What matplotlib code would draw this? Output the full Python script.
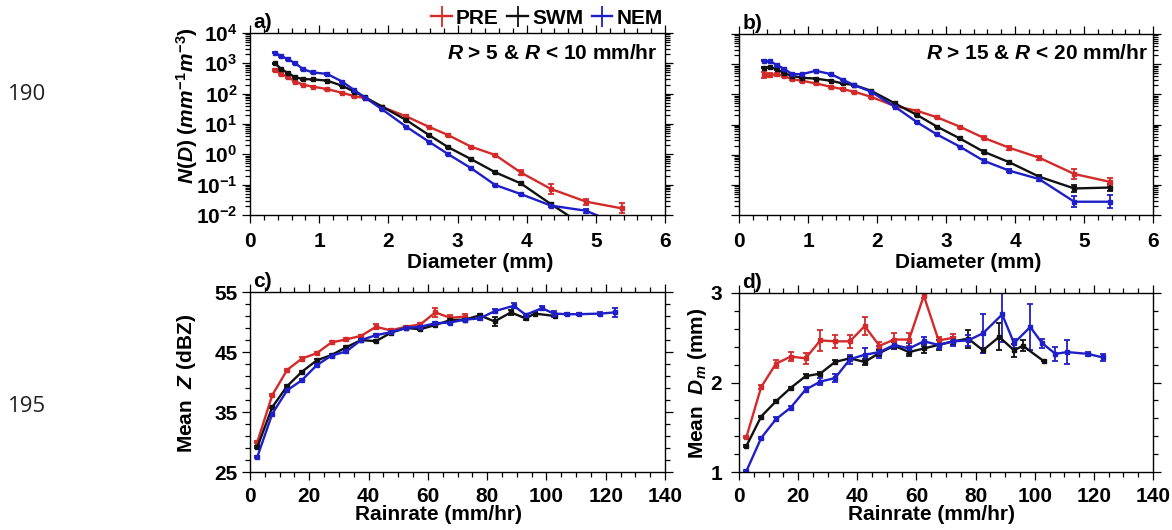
import numpy as np
import matplotlib
matplotlib.use('Agg')
import matplotlib.pyplot as plt
from matplotlib.lines import Line2D
from matplotlib.ticker import MultipleLocator, LogLocator, NullFormatter, FixedLocator

plt.rcParams['font.family'] = 'Liberation Sans'
plt.rcParams['font.weight'] = 'bold'
plt.rcParams['mathtext.fontset'] = 'custom'
plt.rcParams['mathtext.rm'] = 'Liberation Sans:bold'
plt.rcParams['mathtext.it'] = 'Liberation Sans:italic:bold'
plt.rcParams['mathtext.bf'] = 'Liberation Sans:bold'

RED = '#d42a2a'
BLACK = '#111111'
BLUE = '#1f1fc8'

# drop diameter bins (mm)
D = [0.359, 0.455, 0.551, 0.656, 0.771, 0.913, 1.116, 1.331, 1.506, 1.665,
     1.912, 2.259, 2.584, 2.869, 3.198, 3.544, 3.916, 4.350, 4.859, 5.373]

# panel a: log10 N(D), R 5-10 mm/hr
a_pre = [2.78, 2.65, 2.54, 2.40, 2.29, 2.23, 2.15, 2.03, 1.92, 1.85,
         1.56, 1.25, 0.91, 0.63, 0.25, -0.02, -0.60, -1.14, -1.56, -1.78]
a_swm = [3.00, 2.81, 2.67, 2.54, 2.48, 2.47, 2.43, 2.26, 2.07, 1.88,
         1.57, 1.13, 0.64, 0.23, -0.16, -0.59, -0.96, -1.64, -2.40, np.nan]
a_nem = [3.35, 3.24, 3.13, 3.00, 2.80, 2.70, 2.65, 2.40, 2.12, 1.87,
         1.48, 0.91, 0.42, 0.00, -0.46, -1.01, -1.31, -1.69, -1.86, -2.35]
a_pre_err = [0.02] * 14 + [0.03, 0.04, 0.07, 0.17, 0.10, 0.17]
a_swm_err = [0.02] * 14 + [0.03, 0.03, 0.04, 0.05, 0.05, 0.0]
a_nem_err = [0.02] * 14 + [0.03, 0.04, 0.04, 0.06, 0.06, 0.0]

# panel b: log10 N(D), R 15-20 mm/hr
b_pre = [2.64, 2.64, 2.67, 2.61, 2.50, 2.45, 2.36, 2.25, 2.17, 2.09,
         1.92, 1.61, 1.45, 1.24, 0.93, 0.56, 0.23, -0.10, -0.64, -0.90]
b_swm = [2.88, 2.90, 2.83, 2.70, 2.61, 2.55, 2.52, 2.45, 2.36, 2.31,
         2.12, 1.70, 1.31, 0.93, 0.54, 0.10, -0.25, -0.73, -1.12, -1.09]
b_nem = [3.12, 3.09, 2.97, 2.84, 2.67, 2.67, 2.78, 2.67, 2.48, 2.31,
         2.09, 1.59, 1.07, 0.67, 0.27, -0.20, -0.53, -0.81, -1.56, -1.56]
b_pre_err = [0.10, 0.07, 0.05, 0.05, 0.04] + [0.03] * 10 + [0.05, 0.06, 0.07, 0.17, 0.13]
b_swm_err = [0.02] * 15 + [0.04, 0.05, 0.06, 0.13, 0.13]
b_nem_err = [0.02] * 15 + [0.06, 0.06, 0.06, 0.19, 0.21]

# rain rate bins (mm/hr)
R_pre = [2.5, 7.5, 12.5, 17.5, 22.5, 27.5, 32.5, 37.5, 42.5, 47.5, 52.5, 57.5, 62.5, 67.5, 72.5]
R_swm = R_pre + [77.5, 82.5, 88, 93, 96, 103]
R_nem = R_pre + [77.5, 82.5, 89, 93, 98.5, 102.5, 107, 111, 118, 123]

# panel c: mean Z (dBZ)
c_pre = [30.05, 37.8, 42.0, 43.9, 44.8, 46.6, 47.1, 47.7, 49.2, 48.6, 49.2, 49.6, 51.6, 50.7, 50.9]
c_swm = [29.2, 35.8, 39.3, 41.7, 43.6, 44.5, 45.8, 47.0, 46.8, 48.2, 49.0, 48.8, 49.5, 50.3, 50.4,
         51.1, 50.1, 51.6, 50.6, 51.4, 51.0]
c_nem = [27.55, 34.7, 38.6, 40.3, 42.8, 44.4, 45.1, 47.0, 47.8, 48.3, 49.0, 49.2, 49.8, 49.9, 50.4,
         50.6, 51.8, 52.7, 51.2, 52.3, 51.4, 51.3, 51.3, 51.4, 51.6]
c_pre_err = [0.2] * 8 + [0.4, 0.2, 0.2, 0.3, 0.7, 0.4, 0.5]
c_swm_err = [0.2] * 16 + [0.7, 0.4, 0.3, 0.2, 0.2]
c_nem_err = [0.2] * 16 + [0.3, 0.4, 0.2, 0.3, 0.5, 0.2, 0.2, 0.3, 0.7]

# panel d: mean Dm (mm)
d_pre = [1.39, 1.95, 2.21, 2.29, 2.27, 2.47, 2.46, 2.46, 2.63, 2.41, 2.48, 2.48, 2.97, 2.47, 2.50]
d_swm = [1.29, 1.62, 1.79, 1.94, 2.07, 2.10, 2.23, 2.27, 2.23, 2.33, 2.41, 2.34, 2.38, 2.42, 2.46,
         2.49, 2.36, 2.51, 2.36, 2.41, 2.24]
d_nem = [1.01, 1.38, 1.59, 1.72, 1.92, 2.01, 2.05, 2.26, 2.31, 2.34, 2.42, 2.38, 2.46, 2.42, 2.46,
         2.47, 2.55, 2.76, 2.44, 2.62, 2.44, 2.32, 2.34, 2.32, 2.28]
d_pre_err = [0.01, 0.02, 0.045, 0.05, 0.06, 0.115, 0.075, 0.07, 0.1, 0.04, 0.07, 0.075, 0.03, 0.04, 0.04]
d_swm_err = [0.01, 0.01, 0.01, 0.01, 0.02, 0.02, 0.02, 0.02, 0.03, 0.03, 0.04, 0.04, 0.05, 0.06, 0.04,
             0.10, 0.03, 0.15, 0.07, 0.06, 0.0]
d_nem_err = [0.01, 0.01, 0.02, 0.02, 0.03, 0.04, 0.04, 0.05, 0.07, 0.07, 0.05, 0.06, 0.05, 0.05, 0.05,
             0.06, 0.22, 0.31, 0.05, 0.26, 0.05, 0.08, 0.13, 0.02, 0.04]

W, H = 1172, 530
fig = plt.figure(figsize=(W / 100, H / 100), dpi=100)
ax_a = fig.add_axes([250 / W, 1 - 215 / H, 415 / W, 182 / H])
ax_b = fig.add_axes([739 / W, 1 - 215 / H, 414 / W, 181 / H])
ax_c = fig.add_axes([250 / W, 1 - 472 / H, 415 / W, 180 / H])
ax_d = fig.add_axes([739 / W, 1 - 472 / H, 414 / W, 179 / H])


def draw(ax, x, y, e, color, label=None, log=False):
    y = np.array(y, dtype=float)
    e = np.array(e, dtype=float)
    if log:
        val = 10 ** y
        err = [val - 10 ** (y - e), 10 ** (y + e) - val]
    else:
        val, err = y, e
    return ax.errorbar(x, val, yerr=err, color=color, lw=1.7, marker='s', ms=2.6,
                       capsize=2.5, elinewidth=1.3, capthick=1.3, label=label)


def style(ax, labelleft=True, xpad=8, ypad=3):
    ax.tick_params(which='both', direction='out', top=True, right=True, width=0.9,
                   labelsize=15, labelleft=labelleft)
    ax.tick_params(which='major', length=6)
    ax.tick_params(which='minor', length=3.5)
    ax.tick_params(axis='x', pad=xpad)
    ax.tick_params(axis='y', pad=ypad)
    for s in ax.spines.values():
        s.set_linewidth(1.0)


h_pre = draw(ax_a, D, a_pre, a_pre_err, RED, 'PRE', log=True)
h_swm = draw(ax_a, D, a_swm, a_swm_err, BLACK, 'SWM', log=True)
h_nem = draw(ax_a, D, a_nem, a_nem_err, BLUE, 'NEM', log=True)
draw(ax_b, D, b_pre, b_pre_err, RED, log=True)
draw(ax_b, D, b_swm, b_swm_err, BLACK, log=True)
draw(ax_b, D, b_nem, b_nem_err, BLUE, log=True)

for ax in (ax_a, ax_b):
    ax.set_yscale('log')
    ax.set_ylim(1e-2, 1e4)
    ax.set_xlim(0, 6)
    ax.xaxis.set_major_locator(MultipleLocator(1))
    ax.xaxis.set_minor_locator(MultipleLocator(0.2))
    ax.yaxis.set_major_locator(LogLocator(base=10, numticks=10))
    ax.yaxis.set_minor_locator(LogLocator(base=10, subs=np.arange(2, 10), numticks=100))
    ax.yaxis.set_minor_formatter(NullFormatter())
style(ax_a, xpad=6)
style(ax_b, labelleft=False, xpad=6)

draw(ax_c, R_pre, c_pre, c_pre_err, RED)
draw(ax_c, R_swm, c_swm, c_swm_err, BLACK)
draw(ax_c, R_nem, c_nem, c_nem_err, BLUE)
draw(ax_d, R_pre, d_pre, d_pre_err, RED)
draw(ax_d, R_swm, d_swm, d_swm_err, BLACK)
draw(ax_d, R_nem, d_nem, d_nem_err, BLUE)

for ax in (ax_c, ax_d):
    ax.set_xlim(0, 140)
    ax.xaxis.set_major_locator(MultipleLocator(20))
    ax.xaxis.set_minor_locator(MultipleLocator(5))
ax_c.set_ylim(25, 55)
ax_c.yaxis.set_major_locator(FixedLocator([25, 35, 45, 55]))
ax_c.yaxis.set_minor_locator(FixedLocator(np.arange(27, 55, 2)))
ax_d.set_ylim(1, 3)
ax_d.yaxis.set_major_locator(MultipleLocator(1))
ax_d.yaxis.set_minor_locator(MultipleLocator(0.2))
style(ax_c, xpad=5)
style(ax_d, xpad=5, ypad=6)

# axis labels
lab = dict(fontsize=15, fontweight='bold')
ax_a.set_xlabel('Diameter (mm)', **lab)
ax_b.set_xlabel('Diameter (mm)', **lab)
ax_c.set_xlabel('Rainrate (mm/hr)', **lab)
ax_d.set_xlabel('Rainrate (mm/hr)', **lab)
ax_a.xaxis.set_label_coords(0.554, -0.262)
ax_b.xaxis.set_label_coords(0.553, -0.26)
ax_c.xaxis.set_label_coords(0.455, -0.235)
ax_d.xaxis.set_label_coords(0.464, -0.24)
for ax in (ax_a, ax_b, ax_c, ax_d):
    ax.xaxis.label.set_va('center')

ax_a.set_ylabel(r'$N(D)$ $(mm^{-1}m^{-3})$', **lab)
ax_c.set_ylabel(r'Mean  $Z$ (dBZ)', **lab)
ax_d.set_ylabel(r'Mean  $D_m$ (mm)', **lab)
ax_a.yaxis.set_label_coords(-0.152, 0.60)
ax_c.yaxis.set_label_coords(-0.152, 0.494)
ax_d.yaxis.set_label_coords(-0.1, 0.497)
for ax in (ax_a, ax_c, ax_d):
    ax.yaxis.label.set_va('center')

# panel letters
for ax, letter in ((ax_a, 'a)'), (ax_b, 'b)'), (ax_c, 'c)'), (ax_d, 'd)')):
    ax.text(0.008, 1.005, letter, transform=ax.transAxes, ha='left', va='bottom',
            fontsize=15, fontweight='bold')

ax_a.text(0.983, 0.89, r'$R$ > 5 & $R$ < 10 mm/hr', transform=ax_a.transAxes,
          ha='right', va='center', fontsize=15, fontweight='bold')
ax_b.text(0.988, 0.89, r'$R$ > 15 & $R$ < 20 mm/hr', transform=ax_b.transAxes,
          ha='right', va='center', fontsize=15, fontweight='bold')

leg = fig.legend(handles=[h_pre, h_swm, h_nem], loc='center', bbox_to_anchor=(547 / W, 1 - 18 / H),
                 ncol=3, frameon=False, fontsize=15, handlelength=1.0, handletextpad=0.2,
                 columnspacing=0.4, borderpad=0.1)
for ln in leg.findobj(Line2D):
    ln.set_marker('None')

# manuscript line numbers in the margin
fig.text(8 / W, 1 - 95 / H, '190', fontsize=16, fontweight='normal', family='Open Sans',
         color='#222222', va='center')
fig.text(8 / W, 1 - 407 / H, '195', fontsize=16, fontweight='normal', family='Open Sans',
         color='#222222', va='center')

fig.savefig('out.png', dpi=100)
